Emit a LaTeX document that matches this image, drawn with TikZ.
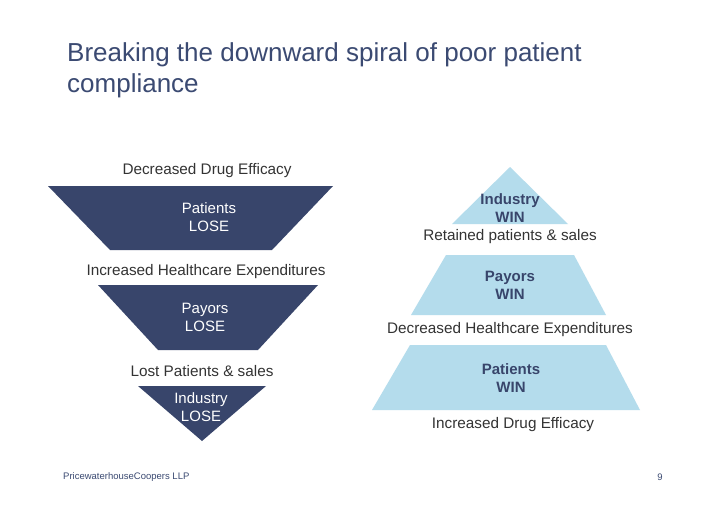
\documentclass[tikz,border=0pt]{standalone}
\usepackage{fontspec}
\setmainfont{Liberation Sans}
\definecolor{navy}{HTML}{38456B}
\definecolor{lblue}{HTML}{B4DCEC}
\definecolor{ttl}{HTML}{3B4A72}
\definecolor{txt}{HTML}{333333}
\begin{document}
\begin{tikzpicture}[x=1pt,y=-1pt,
  lbl/.style={text=txt,font=\fontsize{15.3}{17}\selectfont,inner sep=0pt},
  wt/.style={text=white,font=\fontsize{15}{18}\selectfont,align=center,inner sep=0pt},
  bt/.style={text=navy,font=\bfseries\fontsize{15}{18}\selectfont,align=center,inner sep=0pt}]
\useasboundingbox (0,0) rectangle (728,515);
\fill[white] (0,0) rectangle (728,515);
\node[anchor=west,text=ttl,font=\fontsize{26}{31}\selectfont,align=left,inner sep=0pt] (title) at (67,70) {Breaking the downward spiral of poor patient\\compliance};
% left
\fill[navy] (48,186) -- (333,186) -- (272,250) -- (110,250) -- cycle;
\fill[navy] (98,285) -- (318,285) -- (258,350) -- (158,350) -- cycle;
\fill[navy] (138,386) -- (266,386) -- (202,441) -- cycle;
\node[wt] (pl) at (209,217) {Patients\\LOSE};
\node[wt] (yl) at (205,317) {Payors\\LOSE};
\node[wt] (il) at (201,407) {Industry\\LOSE};
\node[lbl] (l1) at (207,171) {Decreased Drug Efficacy};
\node[lbl] (l2) at (206,272) {Increased Healthcare Expenditures};
\node[lbl] (l3) at (202,371) {Lost Patients \& sales};
% right
\fill[lblue] (510,167) -- (568,224) -- (452,224) -- cycle;
\fill[lblue] (446,255) -- (574,255) -- (606,315) -- (411,315) -- cycle;
\fill[lblue] (410,345) -- (606,345) -- (640,410) -- (372,410) -- cycle;
\node[bt] (iw) at (510,208) {Industry\\WIN};
\node[bt] (yw) at (510,285) {Payors\\WIN};
\node[bt] (pw) at (511,378) {Patients\\WIN};
\node[lbl] (r1) at (510,237) {Retained patients \& sales};
\node[lbl] (r2) at (510,330) {Decreased Healthcare Expenditures};
\node[lbl] (r3) at (513,425) {Increased Drug Efficacy};
% footer
\node[anchor=west,text=ttl,font=\fontsize{9.5}{10}\selectfont,inner sep=0pt] (ft) at (63,477) {PricewaterhouseCoopers LLP};
\node[text=ttl,font=\fontsize{9.5}{10}\selectfont,inner sep=0pt] (pg) at (660,477) {9};
\end{tikzpicture}
\end{document}
